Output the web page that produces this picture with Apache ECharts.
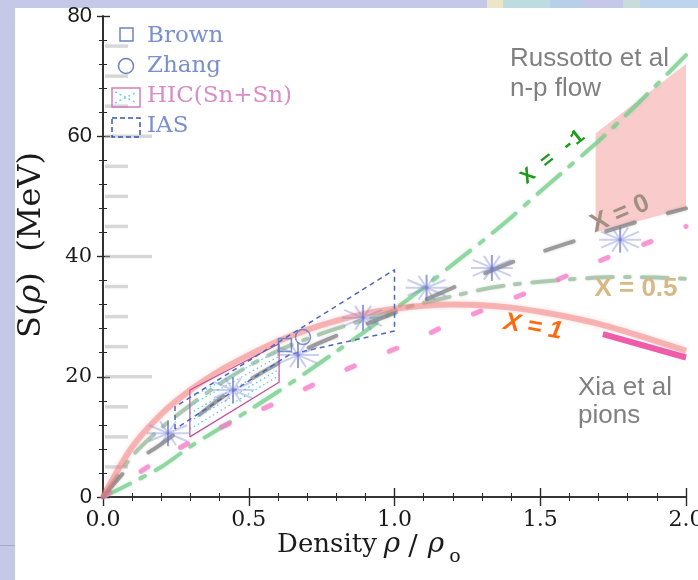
<!DOCTYPE html>
<html><head><meta charset="utf-8">
<script src="https://cdn.jsdelivr.net/npm/echarts@6/dist/echarts.min.js"></script>
<style>
html,body{margin:0;padding:0;background:#c6c8e8;overflow:hidden;}
#panel{position:absolute;left:15px;top:8px;width:683px;height:572px;background:#fff;}
.tile{position:absolute;top:0;height:8px;}
#chart{position:absolute;left:0;top:0;width:698px;height:580px;}
</style></head><body>
<div id="panel"></div>
<div class="tile" style="left:487px;width:16px;background:#ece6c8"></div>
<div class="tile" style="left:503px;width:47px;background:#bcdcdf"></div>
<div class="tile" style="left:550px;width:33px;background:#b8cfe8"></div>
<div class="tile" style="left:623px;width:17px;background:#c8dcdc"></div>
<div class="tile" style="left:640px;width:58px;background:#bcd4ec"></div>
<div style="position:absolute;left:0;top:545px;width:15px;height:1px;background:#a6a8c8"></div>
<div id="chart"></div>
<script>
// ---- data ----
const densityGrid = [0,0.1,0.2,0.3,0.4,0.5,0.6,0.7,0.8,0.9,1.0,1.1,1.2,1.3,1.4,1.5,1.6,1.7,1.8,1.9,2.0];
const symX1    = [0,8.3,13.8,17.8,21.0,23.6,25.9,27.8,29.3,30.5,31.3,31.8,32.0,31.9,31.5,30.8,29.9,28.8,27.4,25.9,24.3];
const symX05   = [0,6.8,11.5,15.3,18.8,21.8,24.3,26.3,28.0,29.5,31.0,32.3,33.4,34.5,35.3,35.8,36.2,36.5,36.6,36.5,36.3];
const symX0    = [0,5.5,8.8,12.5,16.3,19.4,22.2,24.7,26.8,28.7,30.6,32.7,34.8,37.0,39.0,40.7,42.3,43.8,45.3,46.7,48.0];
const symXm1   = [0,2.4,5.0,8.4,11.4,14.4,17.5,20.8,24.2,27.6,31.2,34.8,38.7,42.5,46.5,50.8,55.0,59.2,63.8,68.6,73.5];
const pinkDensity = [0,0.1,0.22,0.36,0.5,0.635,0.77,0.91,1.05,1.18,1.32,1.46,1.6,1.73,1.87,2.0];
const pinkSym     = [0,3.3,7.0,10.6,13.6,16.6,19.8,22.8,25.6,28.6,31.4,34.1,37.0,39.8,42.3,45.0];
const starDensity = [0.223,0.446,0.669,0.892,1.11,1.334,1.774];
const starSym     = [10.6,17.8,23.6,29.8,34.8,38.1,42.8];
const brownPoint = [[0.624,25.3]];
const zhangPoint = [[0.686,26.6]];
const russottoPoly = [[1.69,44.0],[1.69,60.5],[2.0,72.0],[2.0,48.0]];
const xiaSeg = [[1.715,27.1],[2.0,23.2]];
const iasPoly = [[0.247,11.3],[0.247,15.0],[1.0,37.8],[1.0,27.6],[0.64,23.7],[0.247,11.3]];
const hicPoly = [[0.298,10.0],[0.298,17.8],[0.604,25.5],[0.604,19.1],[0.298,10.0]];
const hicHatch = [[0.298,16.5,0.604,24.4],[0.298,15.2,0.604,23.4],[0.298,13.9,0.604,22.3],[0.298,12.6,0.604,21.2],[0.298,11.3,0.604,20.2]];
const grayBarLevels = [5,10,15,20,25,30,35,40,45,50,55,60,65,70,75];
const longBarLevels = [20,40,60];
const xTicks = [0,0.5,1.0,1.5,2.0];
const yTicks = [0,20,40,60,80];

const zip = (xs, ys) => xs.map((x, i) => [x, ys[i]]);
const chart = echarts.init(document.getElementById('chart'));
const serif = '"DejaVu Serif"';
const sans = '"Liberation Sans"';

const axisCommon = {
  type: 'value', splitLine: {show: false},
  axisLine: {show: true, lineStyle: {color: '#2a2a2a', width: 1.6}},
  axisTick: {show: true, inside: true, length: 9, lineStyle: {color: '#2a2a2a', width: 1.4}},
  minorTick: {show: true, splitNumber: 5, length: 4, lineStyle: {color: '#2a2a2a', width: 1}}
};

const option = {
  backgroundColor: 'transparent',
  animation: false,
  grid: {left: 103, right: 12, top: 16, bottom: 83, containLabel: false, outerBoundsMode: 'none'},
  xAxis: [
    Object.assign({}, axisCommon, {position: 'bottom', min: xTicks[0], max: xTicks[xTicks.length-1], interval: 0.5,
      axisLabel: {show: true, margin: 12, color: '#1a1a1a', fontFamily: serif, fontSize: 22,
        showMinLabel: true, showMaxLabel: true, formatter: v => v.toFixed(1)}}),
    Object.assign({}, axisCommon, {position: 'top', min: 0, max: 2, interval: 0.5, axisLabel: {show: false}})
  ],
  yAxis: [
    Object.assign({}, axisCommon, {position: 'left', min: yTicks[0], max: yTicks[yTicks.length-1], interval: 20,
      axisTick: {show: true, inside: true, length: 7, lineStyle: {color: '#2a2a2a', width: 1.4}},
      axisLabel: {show: true, margin: 11, color: '#1a1a1a',
        formatter: v => (v === 40 || v === 20) ? '{s|' + v + '}' : '{h|' + v + '}',
        rich: {s: {fontFamily: serif, fontSize: 21, color: '#1a1a1a'}, h: {fontFamily: sans, fontSize: 22, color: '#1a1a1a'}}}}),
    Object.assign({}, axisCommon, {position: 'right', min: 0, max: 80, interval: 20,
      axisTick: {show: true, inside: true, length: 6, lineStyle: {color: '#2a2a2a', width: 1.4}},
      axisLabel: {show: false}})
  ],
  series: [
    { type: 'custom', z: 1, clip: true, data: [0],
      renderItem: (p, api) => ({type: 'polygon', shape: {points: russottoPoly.map(q => api.coord(q))},
        style: {fill: 'rgba(244,160,160,0.55)', stroke: 'none'}}) },
    { type: 'custom', z: 1, data: grayBarLevels,
      renderItem: (p, api) => { const v = api.value(0); const c = api.coord([0, v]);
        const len = longBarLevels.includes(v) ? 49 : 25;
        return {type: 'line', shape: {x1: c[0] + 2, y1: c[1], x2: c[0] + len, y2: c[1]},
          style: {stroke: 'rgba(175,175,175,0.5)', lineWidth: 3.5}}; } },
    { type: 'line', name: 'X=-1', z: 3, smooth: 0.3, showSymbol: false, data: zip(densityGrid, symXm1),
      lineStyle: {color: 'rgba(120,205,140,0.75)', width: 4, type: [30,12,5,12], cap: 'round',
        shadowBlur: 3, shadowColor: 'rgba(120,205,140,0.5)'} },
    { type: 'line', name: 'X=0.5', z: 3, smooth: 0.3, showSymbol: false, data: zip(densityGrid, symX05),
      lineStyle: {color: 'rgba(155,188,160,0.75)', width: 4, type: [26,12,5,12], cap: 'round',
        shadowBlur: 3, shadowColor: 'rgba(155,188,160,0.5)'} },
    { type: 'line', name: 'pink', z: 3, smooth: 0.3, showSymbol: false, data: zip(pinkDensity, pinkSym),
      lineStyle: {color: 'rgba(245,125,200,0.7)', width: 5, type: [8,38], cap: 'round',
        shadowBlur: 2, shadowColor: 'rgba(245,125,200,0.5)'} },
    { type: 'line', name: 'X=0', z: 3, smooth: 0.3, showSymbol: false, data: zip(densityGrid, symX0),
      lineStyle: {color: 'rgba(120,120,120,0.65)', width: 4, type: [30,34], cap: 'round',
        shadowBlur: 3, shadowColor: 'rgba(120,120,120,0.5)'} },
    { type: 'line', name: 'X=1', z: 3, smooth: 0.3, showSymbol: false, data: zip(densityGrid, symX1),
      lineStyle: {color: 'rgba(242,125,125,0.5)', width: 6, shadowBlur: 4, shadowColor: 'rgba(242,125,125,0.5)'} },
    { type: 'line', name: 'Xia', z: 4, showSymbol: false, data: xiaSeg,
      lineStyle: {color: '#ee5caa', width: 6, cap: 'butt'} },
    { type: 'custom', z: 5, data: hicHatch,
      renderItem: (p, api) => { const a = api.coord([api.value(0), api.value(1)]), b = api.coord([api.value(2), api.value(3)]);
        return {type: 'line', shape: {x1: a[0], y1: a[1], x2: b[0], y2: b[1]},
          style: {stroke: '#5cc8e6', lineWidth: 1.2, lineDash: [1.5, 3]}}; } },
    { type: 'line', name: 'HIC', z: 6, showSymbol: false, data: hicPoly,
      lineStyle: {color: '#c24d9c', width: 1.2} },
    { type: 'line', name: 'IAS', z: 6, showSymbol: false, data: iasPoly,
      lineStyle: {color: '#4f67b5', width: 1.5, type: [5,4]} },
    { type: 'custom', z: 7, data: zip(starDensity, starSym),
      renderItem: (p, api) => { const c = api.coord([api.value(0), api.value(1)]);
        const arms = [[21,0],[19,8],[19,-8],[8,12],[8,-12]];
        const kids = arms.map(a => ({type: 'line', shape: {x1: c[0]-a[0], y1: c[1]-a[1], x2: c[0]+a[0], y2: c[1]+a[1]},
          style: {stroke: 'rgba(125,135,215,0.4)', lineWidth: 2}}));
        kids.push({type: 'line', shape: {x1: c[0], y1: c[1]-13, x2: c[0], y2: c[1]+13},
          style: {stroke: 'rgba(105,115,205,0.7)', lineWidth: 2}});
        return {type: 'group', children: kids}; } },
    { type: 'scatter', z: 8, symbol: 'rect', symbolSize: 13, data: brownPoint,
      itemStyle: {color: 'rgba(0,0,0,0)', borderColor: '#5d77c2', borderWidth: 1.5} },
    { type: 'scatter', z: 8, symbol: 'circle', symbolSize: 15, data: zhangPoint,
      itemStyle: {color: 'rgba(0,0,0,0)', borderColor: '#5d77c2', borderWidth: 1.5} }
  ],
  graphic: [
    // legend
    {type: 'rect', z: 50, shape: {x: 120, y: 28, width: 13, height: 13}, style: {fill: 'none', stroke: '#6a82c4', lineWidth: 1.5}},
    {type: 'circle', z: 50, shape: {cx: 126, cy: 66, r: 7.5}, style: {fill: 'none', stroke: '#6a82c4', lineWidth: 1.5}},
    {type: 'rect', z: 50, shape: {x: 112, y: 88, width: 28, height: 19}, style: {fill: 'none', stroke: '#d27fc0', lineWidth: 1.5}},
    {type: 'line', z: 50, shape: {x1: 115, y1: 92, x2: 137, y2: 103}, style: {stroke: '#6fd0e6', lineWidth: 1.5, lineDash: [2,3]}},
    {type: 'line', z: 50, shape: {x1: 115, y1: 103, x2: 137, y2: 92}, style: {stroke: '#6fd0e6', lineWidth: 1.5, lineDash: [2,3]}},
    {type: 'rect', z: 50, shape: {x: 112, y: 118, width: 28, height: 19}, style: {fill: 'none', stroke: '#3d55a8', lineWidth: 1.5, lineDash: [5,3]}},
    {type: 'text', z: 50, x: 147, y: 36, style: {text: 'Brown', font: '23px ' + serif, fill: '#7a90cc', verticalAlign: 'middle'}},
    {type: 'text', z: 50, x: 147, y: 66, style: {text: 'Zhang', font: '23px ' + serif, fill: '#7a90cc', verticalAlign: 'middle'}},
    {type: 'text', z: 50, x: 147, y: 96, style: {text: 'HIC(Sn+Sn)', font: '23px ' + serif, fill: '#d88cc8', verticalAlign: 'middle'}},
    {type: 'text', z: 50, x: 147, y: 126, style: {text: 'IAS', font: '23px ' + serif, fill: '#7a90cc', verticalAlign: 'middle'}},
    // annotations
    {type: 'text', z: 50, x: 510, y: 59, style: {text: 'Russotto et al', font: '26px ' + sans, fill: '#808080', verticalAlign: 'middle'}},
    {type: 'text', z: 50, x: 510, y: 89, style: {text: 'n-p flow', font: '26px ' + sans, fill: '#808080', verticalAlign: 'middle'}},
    {type: 'text', z: 50, x: 578, y: 388, style: {text: 'Xia et al', font: '26px ' + sans, fill: '#808080', verticalAlign: 'middle'}},
    {type: 'text', z: 50, x: 578, y: 416, style: {text: 'pions', font: '26px ' + sans, fill: '#808080', verticalAlign: 'middle'}},
    {type: 'text', z: 50, x: 553, y: 157, rotation: 38 * Math.PI / 180,
      style: {text: 'X = -1', font: 'bold 21px "Liberation Mono"', fill: '#1c9b1c', align: 'center', verticalAlign: 'middle'}},
    {type: 'text', z: 50, x: 620, y: 214, rotation: 23 * Math.PI / 180,
      style: {text: 'X = 0', font: 'bold 26px ' + sans, fill: '#a09082', align: 'center', verticalAlign: 'middle'}},
    {type: 'text', z: 50, x: 636, y: 289,
      style: {text: 'X = 0.5', font: 'bold 26px ' + sans, fill: '#d8b884', align: 'center', verticalAlign: 'middle'}},
    {type: 'text', z: 50, x: 533, y: 327, rotation: -10 * Math.PI / 180,
      style: {text: 'X = 1', font: 'italic bold 25px ' + sans, fill: '#ff6a10', align: 'center', verticalAlign: 'middle',
        shadowBlur: 2, shadowColor: 'rgba(0,0,0,0.3)', shadowOffsetX: 1, shadowOffsetY: 1}},
    // axis titles
    {type: 'text', z: 50, x: 32, y: 245, rotation: Math.PI / 2,
      style: {text: '{a|S(}{b|ρ}{a|)  (MeV)}', align: 'center', verticalAlign: 'middle',
        rich: {a: {fontFamily: serif, fontSize: 32, fill: '#1a1a1a', color: '#1a1a1a'},
               b: {fontFamily: serif, fontStyle: 'italic', fontSize: 32, fill: '#1a1a1a', color: '#1a1a1a'}}}},
    {type: 'text', z: 50, x: 327, y: 545, style: {text: 'Density', font: '26px ' + serif, fill: '#1a1a1a', align: 'center', verticalAlign: 'middle'}},
    {type: 'text', z: 50, x: 392, y: 545, style: {text: 'ρ', font: 'italic 28px ' + serif, fill: '#1a1a1a', align: 'center', verticalAlign: 'middle'}},
    {type: 'text', z: 50, x: 413, y: 548, style: {text: '/', font: '28px ' + serif, fill: '#1a1a1a', align: 'center', verticalAlign: 'middle'}},
    {type: 'text', z: 50, x: 436, y: 545, style: {text: 'ρ', font: 'italic 28px ' + serif, fill: '#1a1a1a', align: 'center', verticalAlign: 'middle'}},
    {type: 'text', z: 50, x: 455, y: 557, style: {text: 'o', font: '19px ' + serif, fill: '#1a1a1a', align: 'center', verticalAlign: 'middle'}}
  ]
};
chart.setOption(option);
</script>
</body></html>
